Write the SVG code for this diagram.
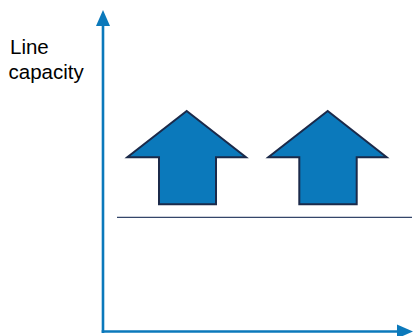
<svg xmlns="http://www.w3.org/2000/svg" width="413" height="336" viewBox="0 0 413 336">
<defs>
<style>
.axis{stroke:#0b79bb;stroke-width:2.6;fill:none}
.head{fill:#0b79bb}
.up{fill:#0b79bb;stroke:#1b2a4a;stroke-width:2;stroke-linejoin:miter}
.lbl{font-family:"Liberation Sans",Arial,sans-serif;font-size:20.5px;fill:#000}
</style>
</defs>
<g id="label"><text class="lbl" x="10" y="54">Line</text><text class="lbl" x="8.5" y="79">capacity</text></g>
<g id="connectors">
<line class="axis" x1="103" y1="24" x2="103" y2="333"/>
<polygon class="head" points="103,10 96,26 110,26"/>
<line class="axis" x1="101.7" y1="331.5" x2="398" y2="331.5"/>
<polygon class="head" points="413,331.5 397,324.5 397,338.5"/>
<line x1="117" y1="217.3" x2="412" y2="217.3" stroke="#34466a" stroke-width="1.3"/>
</g>
<g id="arrow1"><polygon class="up" points="186.7,111 246,157.3 216,157.3 216,204.3 159,204.3 159,157.3 127.3,157.3"/></g>
<g id="arrow2"><polygon class="up" points="327.7,111 386.7,157.3 356.7,157.3 356.7,204.3 299.3,204.3 299.3,157.3 268.3,157.3"/></g>
</svg>
